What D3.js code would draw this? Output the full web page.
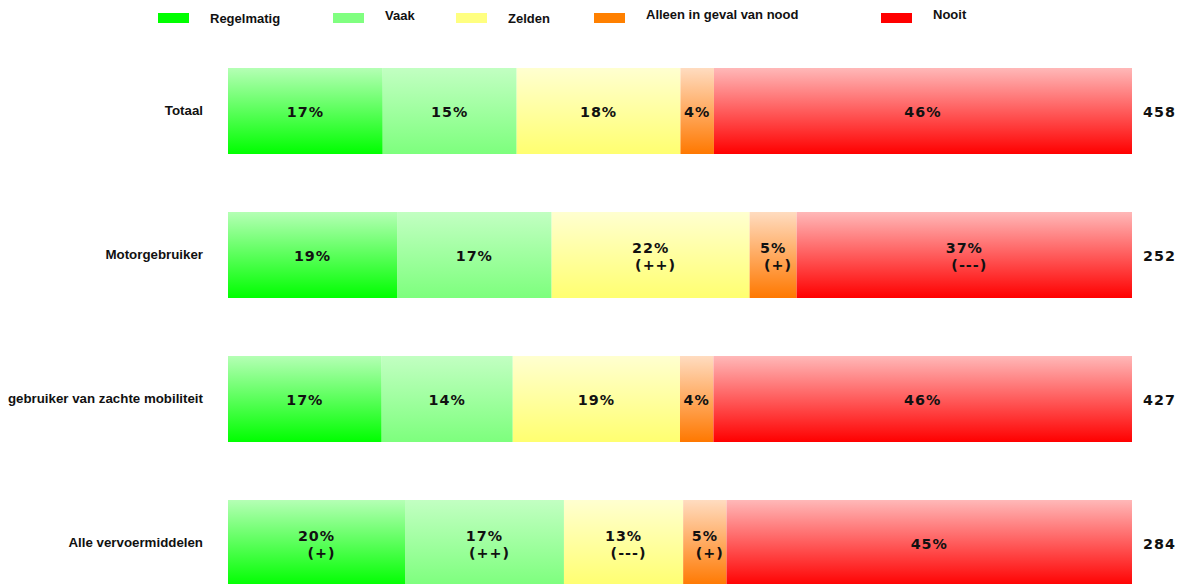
<!DOCTYPE html>
<html>
<head>
<meta charset="utf-8">
<script src="https://cdn.jsdelivr.net/npm/d3@7"></script>
<style>
  html, body { margin: 0; padding: 0; background: #fff; }
  svg { display: block; }
  .cat, .legend text { font-family: "Liberation Sans", Arial, sans-serif; font-weight: bold; font-size: 13px; fill: #111; }
  .cat { font-size: 13.3px; }
  .pct, .total { font-family: "DejaVu Sans", Verdana, sans-serif; font-weight: bold; font-size: 14.3px; fill: #111; letter-spacing: 1px; }
</style>
</head>
<body>
<svg id="chart" width="1177" height="584"></svg>
<script>
// categories (top to bottom)
const categories = ["Totaal", "Motorgebruiker", "gebruiker van zachte mobiliteit", "Alle vervoermiddelen"];
const series = ["Regelmatig", "Vaak", "Zelden", "Alleen in geval van nood", "Nooit"];

// shares per series, one value per category
const regelmatig = [17.1, 18.7, 17.0, 19.6];
const vaak       = [14.8, 17.1, 14.5, 17.6];
const zelden     = [18.1, 21.9, 18.5, 13.2];
const nood       = [3.7, 5.2, 3.7, 4.8];
const nooit      = [46.2, 37.1, 46.3, 44.9];

// printed labels
const labRegelmatig = ["17%", "19%", "17%", "20%"];
const labVaak       = ["15%", "17%", "14%", "17%"];
const labZelden     = ["18%", "22%", "19%", "13%"];
const labNood       = ["4%", "5%", "4%", "5%"];
const labNooit      = ["46%", "37%", "46%", "45%"];

// significance marks under the label
const sigRegelmatig = ["", "", "", "(+)"];
const sigVaak       = ["", "", "", "(++)"];
const sigZelden     = ["", "(++)", "", "(---)"];
const sigNood       = ["", "(+)", "", "(+)"];
const sigNooit      = ["", "(---)", "", ""];

const totals = ["458", "252", "427", "284"];

const values = [regelmatig, vaak, zelden, nood, nooit];
const labels = [labRegelmatig, labVaak, labZelden, labNood, labNooit];
const sigs = [sigRegelmatig, sigVaak, sigZelden, sigNood, sigNooit];

const colors = [
  {top: "#b5ffb5", bottom: "#00ff00", legend: "#00ff00"},
  {top: "#c2ffc2", bottom: "#7dff7d", legend: "#80ff80"},
  {top: "#ffffd0", bottom: "#ffff70", legend: "#ffff80"},
  {top: "#ffdcc0", bottom: "#ff7800", legend: "#ff8000"},
  {top: "#ffb8b8", bottom: "#ff0000", legend: "#ff0000"}
];

const svg = d3.select("#chart");

// gradients, light at top
let defs = svg.append("defs");
colors.forEach((c, i) => {
    let g = defs.append("linearGradient")
        .attr("id", "grad" + i)
        .attr("x1", 0).attr("y1", 0).attr("x2", 0).attr("y2", 1);
    g.append("stop").attr("offset", "0%").attr("stop-color", c.top);
    g.append("stop").attr("offset", "100%").attr("stop-color", c.bottom);
});

const x = d3.scaleLinear().domain([0, 1]).range([228, 1132]);
const y = d3.scaleBand()
    .domain(categories)
    .range([68, 586])
    .paddingInner(0.4028)
    .paddingOuter(0);

// build stacked rows, normalised to the row total
let rows = categories.map((cat, ci) => {
    let sum = d3.sum(values, v => v[ci]);
    let acc = 0;
    return values.map((v, si) => {
        let seg = {cat, si, x0: acc / sum, x1: (acc + v[ci]) / sum,
                   label: labels[si][ci], sig: sigs[si][ci]};
        acc += v[ci];
        return seg;
    });
});

let rowG = svg.selectAll("g.row")
    .data(rows)
    .enter().append("g")
        .attr("class", "row");

rowG.selectAll("rect")
    .data(d => d)
    .enter().append("rect")
        .attr("x", d => x(d.x0))
        .attr("y", d => y(d.cat))
        .attr("width", d => x(d.x1) - x(d.x0))
        .attr("height", y.bandwidth())
        .attr("fill", d => `url(#grad${d.si})`);

let labG = rowG.selectAll("g.lab")
    .data(d => d)
    .enter().append("g")
        .attr("class", "lab");

labG.append("text")
    .attr("class", "pct")
    .attr("text-anchor", "middle")
    .attr("x", d => (x(d.x0) + x(d.x1)) / 2)
    .attr("y", d => y(d.cat) + y.bandwidth() / 2 + (d.sig ? -2 : 6))
    .text(d => d.label);

labG.filter(d => d.sig).append("text")
    .attr("class", "pct")
    .attr("text-anchor", "middle")
    .attr("x", d => (x(d.x0) + x(d.x1)) / 2 + 5)
    .attr("y", d => y(d.cat) + y.bandwidth() / 2 + 15)
    .text(d => d.sig);

// category labels
svg.selectAll("text.cat")
    .data(categories)
    .enter().append("text")
        .attr("class", "cat")
        .attr("text-anchor", "end")
        .attr("x", 203)
        .attr("y", d => y(d) + y.bandwidth() / 2 + 4)
        .text(d => d);

// totals on the right
svg.selectAll("text.total")
    .data(totals)
    .enter().append("text")
        .attr("class", "total")
        .attr("x", 1143)
        .attr("y", (d, i) => y(categories[i]) + y.bandwidth() / 2 + 6)
        .text(d => d);

// legend
const legendX = [158, 333, 456, 594, 881];
const legendTextY = [23, 20, 23, 19, 19];
let legend = svg.append("g").attr("class", "legend");
series.forEach((s, i) => {
    legend.append("rect")
        .attr("x", legendX[i]).attr("y", 13)
        .attr("width", 31).attr("height", 10)
        .attr("fill", colors[i].legend);
    legend.append("text")
        .attr("x", legendX[i] + 52)
        .attr("y", legendTextY[i])
        .text(s);
});
</script>
</body>
</html>
